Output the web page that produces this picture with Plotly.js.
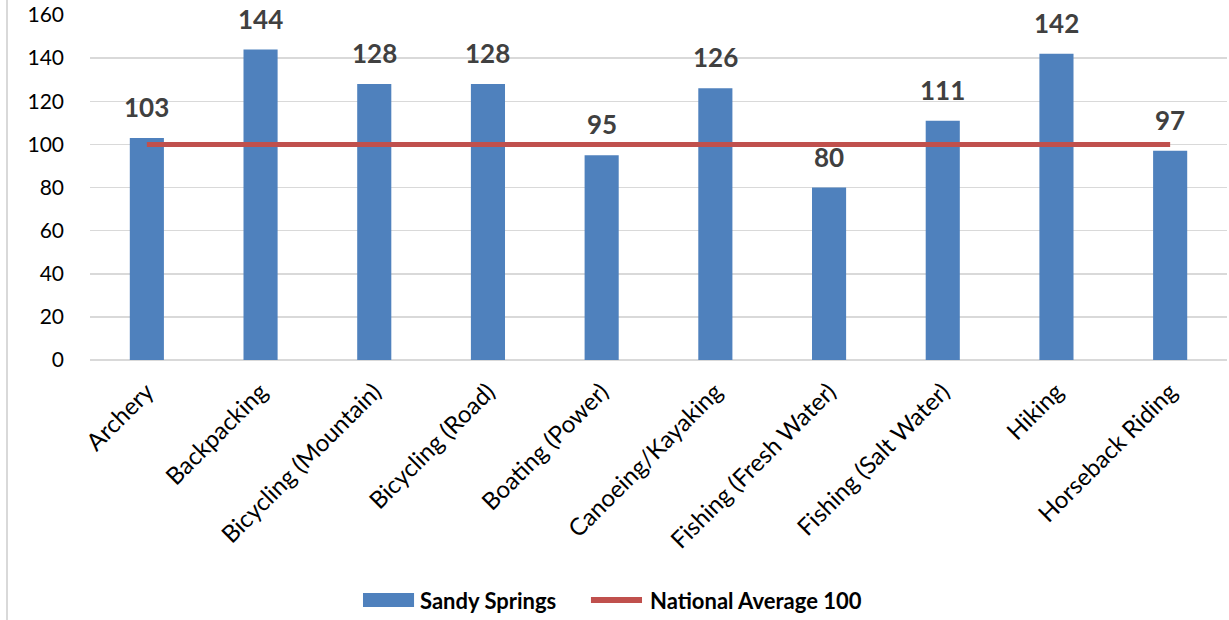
<!DOCTYPE html>
<html>
<head>
<meta charset="utf-8">
<script src="https://cdn.plot.ly/plotly-3.0.1.min.js"></script>
<style>html,body{margin:0;padding:0;background:#fff;}#chart{width:1229px;height:620px;}</style>
</head>
<body>
<div id="chart"></div>
<script>
var categories = ["Archery","Backpacking","Bicycling (Mountain)","Bicycling (Road)","Boating (Power)","Canoeing/Kayaking","Fishing (Fresh Water)","Fishing (Salt Water)","Hiking","Horseback Riding"];
var sandySprings = [103,144,128,128,95,126,80,111,142,97];
var nationalAverage = [100,100,100,100,100,100,100,100,100,100];
var yTicks = [0,20,40,60,80,100,120,140,160];
var seriesNames = ["Sandy Springs","National Average 100"];
var seriesColors = ["#4F81BD","#C0504D"];

var FONT = "Lato, 'Liberation Sans', sans-serif";

var traces = [
  {type:"bar", x:categories, y:sandySprings, name:seriesNames[0],
   marker:{color:seriesColors[0]}, width:0.3, showlegend:false},
  {type:"scatter", mode:"lines", x:categories, y:nationalAverage, name:seriesNames[1],
   line:{color:seriesColors[1], width:5}, showlegend:false}
];

var annotations = categories.map(function(c,i){
  return {x:c, y:sandySprings[i], xref:"x", yref:"y", text:String(sandySprings[i]),
    showarrow:false, yanchor:"bottom", yshift:13,
    font:{family:FONT, size:26, color:"#404040", weight:"bold"}};
});

// custom legend (library-drawn shapes and text in paper coordinates)
var legY = -0.696;
annotations.push({xref:"paper", yref:"paper", x:0.2885, y:legY, xanchor:"left", yanchor:"middle",
  text:seriesNames[0], showarrow:false, font:{family:FONT, size:22, color:"#000", weight:"bold"}});
annotations.push({xref:"paper", yref:"paper", x:0.4908, y:legY, xanchor:"left", yanchor:"middle",
  text:seriesNames[1], showarrow:false, font:{family:FONT, size:22, color:"#000", weight:"bold"}});

var layout = {
  width:1229, height:620,
  margin:{l:90, r:2, t:15, b:260},
  paper_bgcolor:"#fff", plot_bgcolor:"#fff",
  font:{family:FONT, color:"#000"},
  showlegend:false,
  xaxis:{type:"category", range:[-0.5,9.5], tickangle:-45, showgrid:false,
    ticks:"", ticklabelstandoff:12, tickfont:{family:FONT, size:24, color:"#000"}, showline:false, zeroline:false},
  yaxis:{range:[0,160], tickvals:yTicks, showgrid:true, gridcolor:"#d9d9d9", gridwidth:1.5,
    zeroline:true, zerolinecolor:"#d9d9d9", zerolinewidth:1.5, showline:false, ticks:"",
    ticklabelstandoff:25, tickfont:{family:FONT, size:21, color:"#000"}},
  annotations:annotations,
  shapes:[
    {type:"line", xref:"paper", yref:"paper", x0:-0.073, x1:-0.073, y0:-0.76, y1:1.05,
      line:{color:"#d9d9d9", width:2}},
    {type:"rect", xref:"paper", yref:"paper", x0:0.2401, x1:0.2850, y0:-0.716, y1:-0.675,
      fillcolor:seriesColors[0], line:{width:0}},
    {type:"line", xref:"paper", yref:"paper", x0:0.4406, x1:0.4855, y0:legY, y1:legY,
      line:{color:seriesColors[1], width:6}}
  ]
};

Plotly.newPlot("chart", traces, layout, {displayModeBar:false, staticPlot:true});
</script>
</body>
</html>
